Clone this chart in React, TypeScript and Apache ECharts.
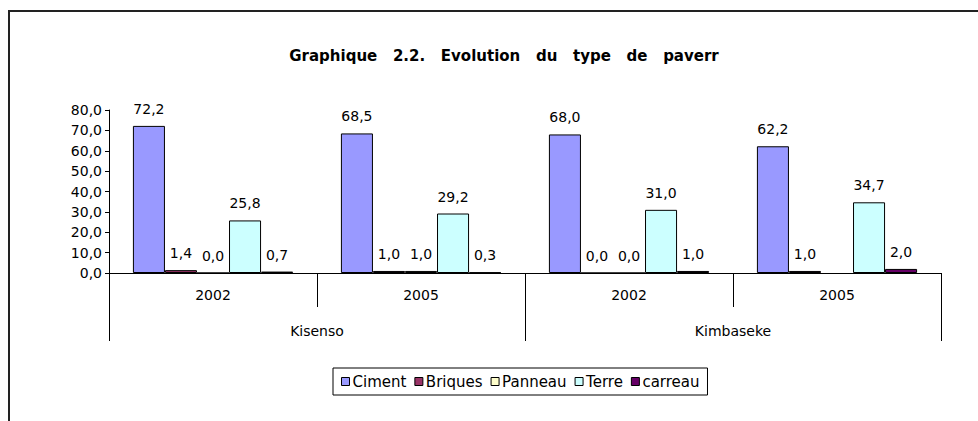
import React, { useEffect, useRef } from "react";
import * as echarts from "echarts";

const years = ["2002", "2005", "2002", "2005"];
const districts = ["Kisenso", "Kimbaseke"];
const seriesNames = ["Ciment", "Briques", "Panneau", "Terre", "carreau"];
const ciment = [72.2, 68.5, 68.0, 62.2];
const briques = [1.4, 1.0, 0.0, 1.0];
const panneau = [0.0, 1.0, 0.0, null];
const terre = [25.8, 29.2, 31.0, 34.7];
const carreau = [0.7, 0.3, 1.0, 2.0];
const colors = ["#9999FF", "#993366", "#FFFFCC", "#CCFFFF", "#660066"];
const titleText = "Graphique   2.2.   Evolution   du   type   de   paverr";

const fmt = (v: number) => v.toFixed(1).replace(".", ",");
const FONT = "DejaVu Sans";

export default function App() {
  const ref = useRef<HTMLDivElement>(null);
  useEffect(() => {
    if (!ref.current) return;
    const chart = echarts.init(ref.current, null, { renderer: "svg" });
    const all = [ciment, briques, panneau, terre, carreau];
    chart.setOption({
      animation: false,
      backgroundColor: "#fff",
      textStyle: { fontFamily: FONT },
      title: {
        text: titleText,
        left: 499,
        top: 43,
        textAlign: "center",
        textStyle: { fontFamily: FONT, fontSize: 15, fontWeight: "bold", color: "#000" },
      },
      grid: { left: 109, right: 37, top: 110, bottom: 148, containLabel: false },
      legend: {
        data: seriesNames,
        left: 333,
        top: 368,
        height: 30,
        orient: "horizontal",
        padding: [6, 8, 6, 8],
        borderColor: "#000",
        borderWidth: 1,
        itemWidth: 8,
        itemHeight: 8,
        itemGap: 8,
        icon: "rect",
        itemStyle: { borderColor: "#000", borderWidth: 1 },
        textStyle: { fontFamily: FONT, fontSize: 15, color: "#000", padding: [0, 0, 0, -2] },
      },
      xAxis: [
        {
          type: "category",
          data: years,
          position: "bottom",
          axisLine: { lineStyle: { color: "#000", width: 1 } },
          axisTick: { show: true, length: 34, lineStyle: { color: "#000" } },
          axisLabel: { color: "#000", fontSize: 14, fontFamily: FONT, margin: 15 },
        },
        {
          type: "category",
          data: districts,
          position: "bottom",
          axisLine: { show: false },
          axisTick: { show: true, length: 68, lineStyle: { color: "#000" } },
          axisLabel: { color: "#000", fontSize: 14, fontFamily: FONT, margin: 51 },
        },
      ],
      yAxis: {
        type: "value",
        min: 0,
        max: 80,
        interval: 10,
        axisLine: { show: true, lineStyle: { color: "#000" } },
        axisTick: { show: true, length: 4, lineStyle: { color: "#000" } },
        splitLine: { show: false },
        axisLabel: { color: "#000", fontSize: 14, fontFamily: FONT, margin: 7, formatter: (v: number) => fmt(v) },
      },
      series: seriesNames.map((name, i) => ({
        name,
        type: "bar",
        xAxisIndex: 0,
        data: all[i],
        barGap: "0%",
        barCategoryGap: "23%",
        itemStyle: { color: colors[i], borderColor: "#000", borderWidth: 1 },
        label: {
          show: true,
          position: "top",
          distance: 10,
          color: "#000",
          fontSize: 14,
          fontFamily: FONT,
          formatter: (p: any) => (p.value == null ? "" : fmt(p.value)),
        },
      })),
      graphic: [
        {
          type: "rect",
          shape: { x: 9, y: 11, width: 1000, height: 500 },
          style: { fill: "none", stroke: "#222", lineWidth: 2 },
          silent: true,
        },
      ],
    });
    return () => chart.dispose();
  }, []);
  return <div ref={ref} style={{ position: "fixed", left: 0, top: 0, width: 978, height: 421 }} />;
}
